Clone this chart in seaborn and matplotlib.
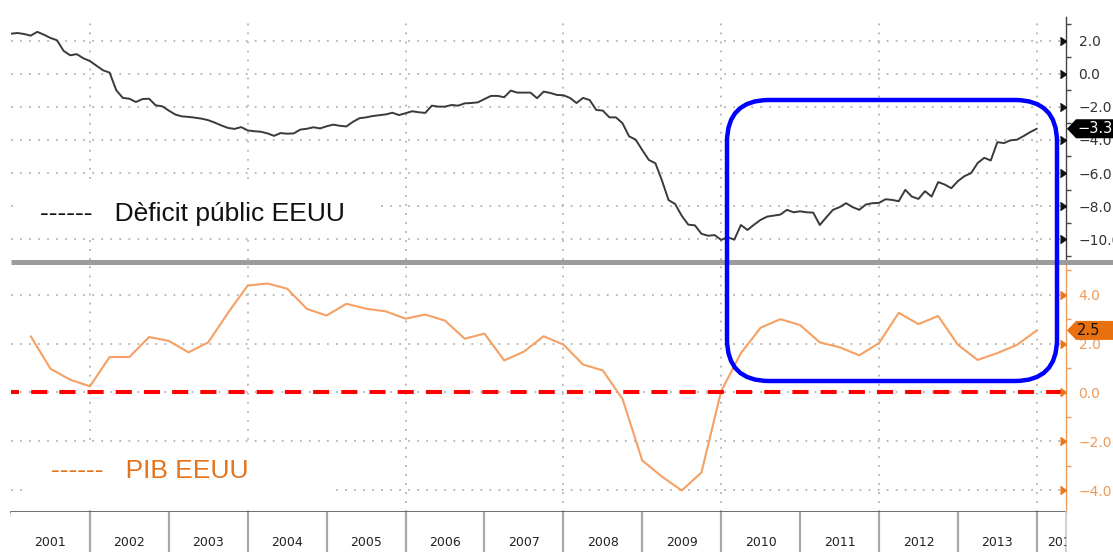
import numpy as np
import pandas as pd
import matplotlib
matplotlib.use("Agg")
import matplotlib.pyplot as plt
import matplotlib.transforms as mtransforms
import seaborn as sns
from matplotlib.ticker import MultipleLocator, FuncFormatter
from matplotlib.patches import Rectangle, FancyBboxPatch, Polygon
from matplotlib.lines import Line2D

# ---------------- data ----------------
years = list(range(2001, 2015))

deficit_start = 2001.0          # monthly series, % of GDP
deficit_values = [
    2.44, 2.48, 2.42, 2.32, 2.55, 2.38, 2.18, 2.04, 1.40, 1.13, 1.20, 0.95,
    0.78, 0.50, 0.22, 0.08, -0.98, -1.45, -1.50, -1.70, -1.52, -1.50, -1.90, -1.96,
    -2.22, -2.46, -2.57, -2.60, -2.65, -2.71, -2.80, -2.95, -3.12, -3.27, -3.33, -3.22,
    -3.42, -3.47, -3.50, -3.60, -3.75, -3.58, -3.62, -3.60, -3.37, -3.32, -3.23, -3.30,
    -3.17, -3.07, -3.14, -3.18, -2.90, -2.68, -2.63, -2.55, -2.50, -2.45, -2.35, -2.49,
    -2.38, -2.26, -2.32, -2.36, -1.92, -1.98, -1.98, -1.88, -1.92, -1.78, -1.76, -1.72,
    -1.52, -1.33, -1.33, -1.41, -1.01, -1.13, -1.13, -1.13, -1.47, -1.07, -1.15, -1.27,
    -1.29, -1.45, -1.76, -1.45, -1.58, -2.18, -2.22, -2.63, -2.63, -2.99, -3.78, -3.98,
    -4.61, -5.21, -5.41, -6.46, -7.64, -7.88, -8.59, -9.13, -9.17, -9.68, -9.80, -9.76,
    -10.05, -9.89, -10.04, -9.15, -9.45, -9.13, -8.84, -8.64, -8.58, -8.52, -8.23, -8.38,
    -8.32, -8.38, -8.40, -9.15, -8.68, -8.23, -8.07, -7.83, -8.07, -8.23, -7.91, -7.83,
    -7.81, -7.59, -7.63, -7.71, -7.02, -7.43, -7.57, -7.10, -7.43, -6.55, -6.70, -6.92,
    -6.49, -6.19, -6.01, -5.40, -5.08, -5.24, -4.13, -4.19, -4.02, -3.98, -3.76, -3.52,
    -3.32,
]

gdp_start = 2001.25             # quarterly series, YoY %
gdp_values = [
    2.30, 0.97, 0.52, 0.25,
    1.45, 1.45, 2.27, 2.11,
    1.64, 2.05, 3.26, 4.38,
    4.46, 4.25, 3.42, 3.15,
    3.63, 3.43, 3.32, 3.02,
    3.19, 2.94, 2.20, 2.41,
    1.31, 1.67, 2.30, 1.96,
    1.14, 0.90, -0.27, -2.79,
    -3.45, -4.02, -3.28, 0.05,
    1.61, 2.65, 3.00, 2.76,
    2.05, 1.85, 1.52, 2.02,
    3.26, 2.80, 3.13, 1.95,
    1.33, 1.61, 1.95, 2.54,
]

deficit_label = "------   Dèficit públic EEUU"
gdp_label = "------   PIB EEUU"
top_ticks = [-10, -8, -6, -4, -2, 0, 2]
bot_ticks = [-4, -2, 0, 2, 4]

df_def = pd.DataFrame({"x": deficit_start + np.arange(len(deficit_values)) / 12.0,
                       "y": deficit_values})
df_gdp = pd.DataFrame({"x": gdp_start + np.arange(len(gdp_values)) * 0.25,
                       "y": gdp_values})

# ---------------- style ----------------
sns.set_theme(style="white")
plt.rcParams["font.family"] = ["DejaVu Sans"]

W, H = 1113, 552
fig = plt.figure(figsize=(W / 100, H / 100), dpi=100)
fig.patch.set_facecolor("white")


def rect(x0, y0, x1, y1):
    return [x0 / W, (H - y1) / H, (x1 - x0) / W, (y1 - y0) / H]


ax_top = fig.add_axes(rect(11, 17, 1066, 260))
ax_bot = fig.add_axes(rect(11, 265, 1066, 512))
ax_lab = fig.add_axes(rect(11, 512, 1066, 552))

XMIN, XMAX = 2001.0, 2014.37

DEF_COLOR = "#3a3a3a"
GDP_COLOR = "#F5A064"
ORANGE_TXT = "#E5731A"
ORANGE_LBL = "#F09A58"
GRID = "#b3b3b3"

fmt = FuncFormatter(lambda v, p: f"{v:.1f}".replace("-", "\u2212"))

sns.lineplot(data=df_def, x="x", y="y", ax=ax_top, color=DEF_COLOR,
             linewidth=1.4, legend=False, zorder=3)
sns.lineplot(data=df_gdp, x="x", y="y", ax=ax_bot, color=GDP_COLOR,
             linewidth=1.5, legend=False, zorder=3)
ax_bot.axhline(0, color="red", linewidth=2.9, linestyle=(2, (4, 3)), zorder=4)


def style_panel(ax, ylim, ticks, spine_color, lbl_color, tri_color):
    ax.set_xlim(XMIN, XMAX)
    ax.set_ylim(*ylim)
    ax.set_xlabel("")
    ax.set_ylabel("")
    ax.set_xticks(years[1::2])
    ax.set_yticks(ticks)
    ax.yaxis.set_minor_locator(MultipleLocator(1))
    ax.yaxis.set_major_formatter(fmt)
    ax.grid(True, which="major", axis="both", color=GRID,
            linestyle=(0, (1, 4)), linewidth=1.3)
    for s in ("left", "top", "bottom"):
        ax.spines[s].set_visible(False)
    ax.spines["right"].set_visible(True)
    ax.spines["right"].set_color(spine_color)
    ax.spines["right"].set_linewidth(1.0)
    ax.tick_params(axis="y", which="both", left=False, right=True,
                   labelleft=False, labelright=True)
    ax.tick_params(axis="y", which="major", length=0, pad=9,
                   labelsize=10, labelcolor=lbl_color)
    ax.tick_params(axis="y", which="minor", length=3.5, width=1.0,
                   color=spine_color, direction="out")
    trans = mtransforms.blended_transform_factory(ax.transAxes, ax.transData)
    ax.plot(np.ones(len(ticks)), ticks, linestyle="none", marker=5,
            markersize=6, color=tri_color, transform=trans, clip_on=False,
            zorder=5)


style_panel(ax_top, (-11.27, 3.45), top_ticks, "#444444", "#333333", "#111111")
ax_top.tick_params(axis="x", which="both", length=0, labelbottom=False)

style_panel(ax_bot, (-4.9, 5.22), bot_ticks, ORANGE_LBL, ORANGE_LBL, "#E8781E")
ax_bot.spines["bottom"].set_visible(True)
ax_bot.spines["bottom"].set_color("#555555")
ax_bot.spines["bottom"].set_linewidth(1.2)
ax_bot.set_xticks(years, minor=True)
ax_bot.tick_params(axis="x", which="both", bottom=True, length=3,
                   direction="out", color="#555555", labelbottom=False)

# legend-like labels with white boxes
ax_top.add_patch(Rectangle((0.0057, 0.111), 0.344, 0.1975, transform=ax_top.transAxes,
                           facecolor="white", edgecolor="none", zorder=2.5))
ax_top.text(0.0275, 0.1605, deficit_label, transform=ax_top.transAxes,
            ha="left", va="baseline", fontsize=19, color="#111111",
            family=["Liberation Sans", "DejaVu Sans"], zorder=6)
ax_bot.add_patch(Rectangle((0.0133, 0.036), 0.289, 0.243, transform=ax_bot.transAxes,
                           facecolor="white", edgecolor="none", zorder=2.5))
ax_bot.text(0.0379, 0.1377, gdp_label, transform=ax_bot.transAxes,
            ha="left", va="baseline", fontsize=19, color=ORANGE_TXT,
            family=["Liberation Sans", "DejaVu Sans"], zorder=6)

# year strip
ax_lab.set_xlim(XMIN, XMAX)
ax_lab.set_ylim(0, 1)
ax_lab.set_xticks([])
ax_lab.set_yticks([])
ax_lab.grid(False)
for s in ("left", "top", "bottom"):
    ax_lab.spines[s].set_visible(False)
ax_lab.spines["right"].set_color("#cccccc")
ax_lab.vlines(years[1:], 0, 1, color="#a8a8a8", linewidth=1.6)
for y in years:
    if y + 1 <= XMAX:
        ax_lab.text(y + 0.5, 0.24, str(y), ha="center", va="center",
                    fontsize=9, color="#222222", clip_on=True)
    else:
        ax_lab.text(y + 0.125, 0.24, str(y), ha="left", va="center",
                    fontsize=9, color="#222222", clip_on=True)

# thick grey separator between panels
fig.add_artist(Line2D([11 / W, 1.0], [(H - 262) / H] * 2, transform=fig.transFigure,
                      color="#9c9c9c", linewidth=3.6, solid_capstyle="butt"))

# last-value tags
ident = mtransforms.IdentityTransform()


def value_tag(ax, val, face, txt_color):
    x0 = ax.transAxes.transform((1, 0))[0]
    y0 = ax.transData.transform((XMAX, val))[1]
    h = 9.5
    pts = [(x0 + 1, y0), (x0 + 10, y0 + h), (x0 + 80, y0 + h),
           (x0 + 80, y0 - h), (x0 + 10, y0 - h)]
    fig.add_artist(Polygon(pts, closed=True, transform=ident, facecolor=face,
                           edgecolor="none", zorder=10))
    fig.text(x0 + 11, y0, f"{val:.1f}".replace("-", "\u2212"), transform=ident,
             ha="left", va="center", fontsize=10.5, color=txt_color, zorder=11)


value_tag(ax_top, deficit_values[-1], "#000000", "white")
value_tag(ax_bot, gdp_values[-1], "#E8700F", "#111111")

# blue rounded highlight box
fig.add_artist(FancyBboxPatch((727, H - 381), 1057 - 727, 381 - 100,
                              boxstyle="round,pad=0,rounding_size=42",
                              transform=ident, facecolor="none",
                              edgecolor=(0, 0, 1), linewidth=3.2, zorder=9))

fig.savefig("out.png", dpi=100, facecolor="white")
